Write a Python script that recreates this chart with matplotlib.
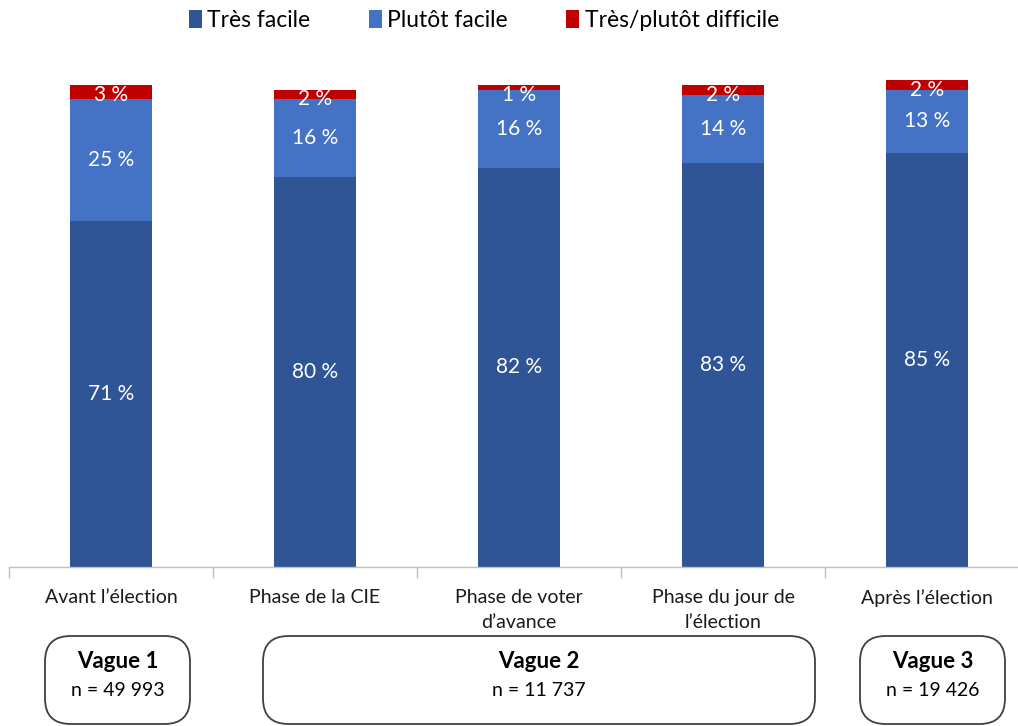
import matplotlib
matplotlib.use("Agg")
import matplotlib.pyplot as plt
from matplotlib.patches import FancyBboxPatch
import numpy as np

plt.rcParams['font.family'] = ['Lato', 'DejaVu Sans']

categories = ["Avant l’élection", "Phase de la CIE", "Phase de voter\nd’avance",
              "Phase du jour de\nl’élection", "Après l’élection"]
series_names = ["Très facile", "Plutôt facile", "Très/plutôt difficile"]
tres_facile = [71, 80, 82, 83, 85]
plutot_facile = [25, 16, 16, 14, 13]
difficile = [3, 2, 1, 2, 2]
waves = ["Vague 1", "Vague 2", "Vague 3"]
wave_n = ["n = 49 993", "n = 11 737", "n = 19 426"]

colors = ["#2F5597", "#4472C4", "#C00000"]

W, H = 1018, 726
fig = plt.figure(figsize=(W / 100, H / 100), dpi=100)
ax = fig.add_axes([9 / W, 159 / H, 1009 / W, 487 / H])

x = np.arange(len(categories))
bottom = np.zeros(len(categories))
for vals, col, name in zip([tres_facile, plutot_facile, difficile], colors, series_names):
    vals = np.array(vals, dtype=float)
    ax.bar(x, vals, width=0.4, bottom=bottom, color=col, label=name, zorder=2)
    tops = bottom + vals
    for xi, b, v in zip(x, bottom, vals):
        total = tres_facile[xi] + plutot_facile[xi] + difficile[xi]
        y = min(b + v / 2, total - 2.0)
        ax.text(xi, y, f"{int(v)} %", ha='center', va='center', color='white',
                fontsize=15, zorder=3)
    bottom = tops

for s in ['top', 'right', 'left']:
    ax.spines[s].set_visible(False)
ax.spines['bottom'].set_color('#BFBFBF')
ax.spines['bottom'].set_linewidth(1.0)
ax.yaxis.set_visible(False)
ax.set_xticks(x)
ax.set_xticklabels(categories, fontsize=14, color='#1a1a1a', linespacing=1.55)
ax.tick_params(axis='x', which='major', length=0, pad=16)
ax.set_xticks(np.arange(-0.5, 5.0, 1.0), minor=True)
ax.tick_params(axis='x', which='minor', length=8, color='#BFBFBF', width=1.0)
# category slots 204 px wide; the last one runs off the right edge
ax.set_xlim(-0.5, -0.5 + 1009 / 204)
ax.set_ylim(0, 100)

# legend across the top
fig.legend(loc='upper center', bbox_to_anchor=(484 / W, 1.0 - 1 / H), ncol=3,
           frameon=False, fontsize=16.5, handlelength=0.55, handleheight=0.8,
           handletextpad=0.25, columnspacing=2.55, borderaxespad=0)

# wave boxes below the categories
boxes = [(45, 190), (263, 815), (860, 1005)]
for (x0, x1), wname, n in zip(boxes, waves, wave_n):
    y_top = 636
    y_bot = 724
    p = FancyBboxPatch((x0 / W, 1 - y_bot / H), (x1 - x0) / W, (y_bot - y_top) / H,
                       boxstyle="round,pad=0,rounding_size=0.025",
                       transform=fig.transFigure, facecolor='white',
                       edgecolor='#404040', linewidth=1.3,
                       mutation_aspect=W / H)
    fig.add_artist(p)
    cx = (x0 + x1) / 2 / W
    fig.text(cx, 1 - 662 / H, wname, ha='center', va='center', fontsize=16,
             fontweight='bold', color='black')
    fig.text(cx, 1 - 690 / H, n, ha='center', va='center', fontsize=14, color='black')

fig.savefig("out.png", dpi=100, facecolor='white')
